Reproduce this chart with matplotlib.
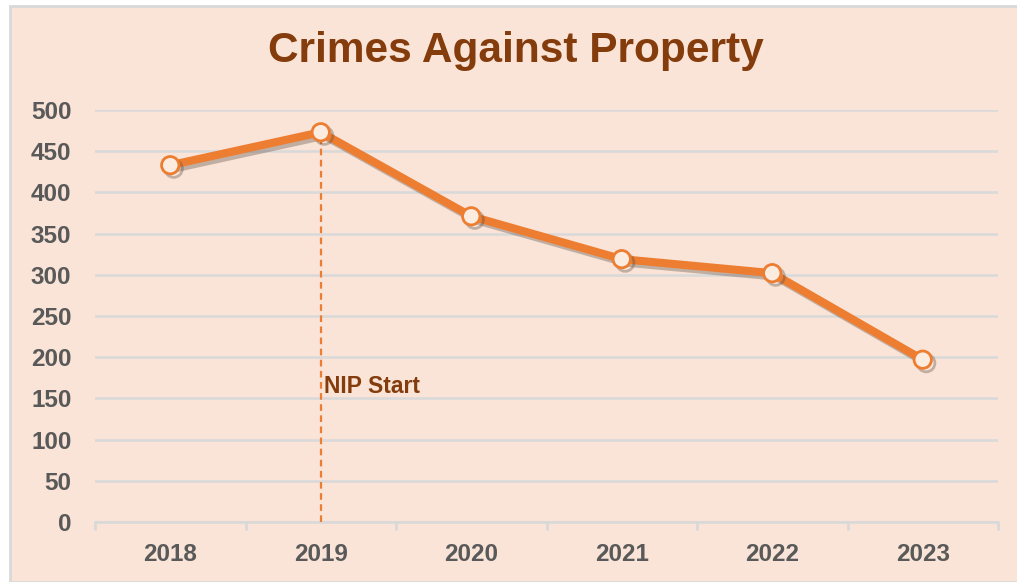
import matplotlib.pyplot as plt
import matplotlib.patheffects as pe
from matplotlib.patches import Rectangle
import numpy as np

years = ['2018', '2019', '2020', '2021', '2022', '2023']
crimes = [433, 473, 371, 319, 302, 197]
nip_year = '2019'
nip_label = 'NIP Start'

bg = '#F9E4D7'
orange = '#ED7D31'
brown = '#843C0C'
gray_txt = '#595959'
grid_c = '#D9D9D9'

plt.rcParams['font.family'] = ['Liberation Sans', 'DejaVu Sans']

fig = plt.figure(figsize=(10.17, 5.82), dpi=100)
fig.patch.set_facecolor('white')
# chart area frame
fig.patches.append(Rectangle((10 / 1017, 0), 1.1, 576 / 582, transform=fig.transFigure,
                             facecolor=bg, edgecolor='#D9D9D9', linewidth=2, zorder=-1))

ax = fig.add_axes([95 / 1017, 60 / 582, 903 / 1017, 412 / 582])
ax.set_facecolor('none')

x = np.arange(len(years))
ax.plot(x, crimes, color=orange, linewidth=5.8, marker='o', markersize=12.5,
        markerfacecolor='#FCEBDF', markeredgecolor=orange, markeredgewidth=2, zorder=4,
        path_effects=[pe.SimpleLineShadow(offset=(2.5, -2.5), shadow_color='#5a4a40', alpha=0.35),
                      pe.Normal()])

# NIP start marker
xi = years.index(nip_year)
ax.plot([xi, xi], [0, crimes[xi]], color=orange, linestyle=(0, (3, 2)), linewidth=1.6, zorder=3)
ax.text(xi + 0.02, 164, nip_label, color=brown, fontsize=16.5, fontweight='bold',
        ha='left', va='center')

ax.set_xlim(-0.5, len(years) - 0.5)
ax.set_ylim(0, 500)
ax.set_yticks(np.arange(0, 501, 50))
ax.set_xticks(x)
ax.set_xticklabels(years)
ax.set_xticks(np.arange(-0.5, len(years), 1), minor=True)
ax.tick_params(axis='x', which='major', length=0, pad=15, labelsize=17.5, labelcolor=gray_txt)
ax.tick_params(axis='x', which='minor', length=6, width=2, color=grid_c, direction='out')
ax.tick_params(axis='y', length=0, pad=17, labelsize=17.5, labelcolor=gray_txt)
for lbl in ax.get_xticklabels() + ax.get_yticklabels():
    lbl.set_fontweight('bold')

ax.grid(axis='y', color=grid_c, linewidth=1.8)
ax.set_axisbelow(True)
for s in ['top', 'right', 'left']:
    ax.spines[s].set_visible(False)
ax.spines['bottom'].set_color(grid_c)
ax.spines['bottom'].set_linewidth(1.8)

fig.text(516 / 1017, 1 - 51 / 582, 'Crimes Against Property', color=brown, fontsize=30.5,
         fontweight='bold', ha='center', va='center')

fig.savefig('out.png', dpi=100)
